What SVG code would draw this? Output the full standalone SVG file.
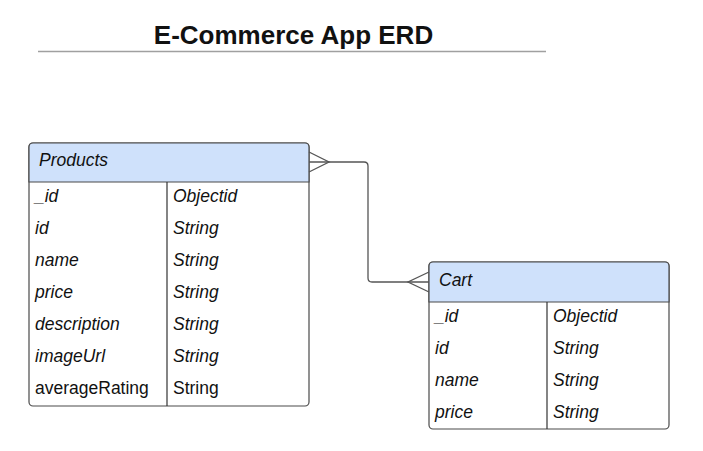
<svg xmlns="http://www.w3.org/2000/svg" width="703" height="451" viewBox="0 0 703 451">
<style>
.box{fill:#ffffff;stroke:#4a4a4a;stroke-width:1.2}
.hdr{fill:#cfe1fb;stroke:#4a4a4a;stroke-width:1.2}
.sep{stroke:#333333;stroke-width:1.2;fill:none}
.t{font-family:"Liberation Sans",Arial,sans-serif;font-size:17.5px;font-style:italic;fill:#111111}
.n{font-style:normal}
.conn{fill:none;stroke:#555555;stroke-width:1.3}
</style>
<rect width="703" height="451" fill="#ffffff"/>
<text x="293.5" y="44" text-anchor="middle" font-family="Liberation Sans, Arial, sans-serif" font-size="26" font-weight="bold" fill="#111111">E-Commerce App ERD</text>
<line x1="38" y1="51.5" x2="546" y2="51.5" stroke="#a0a0a0" stroke-width="1.5"/>

<g id="products">
<rect class="box" x="29" y="143" width="280" height="263" rx="4"/>
<path class="hdr" d="M29,182 V147 Q29,143 33,143 H305 Q309,143 309,147 V182 Z"/>
<line class="sep" x1="167" y1="182" x2="167" y2="406"/>
<text class="t" x="39" y="166">Products</text>
<text class="t" x="35" y="202">_id</text><text class="t" x="173" y="202">Objectid</text>
<text class="t" x="35" y="234">id</text><text class="t" x="173" y="234">String</text>
<text class="t" x="35" y="266">name</text><text class="t" x="173" y="266">String</text>
<text class="t" x="35" y="298">price</text><text class="t" x="173" y="298">String</text>
<text class="t" x="35" y="330">description</text><text class="t" x="173" y="330">String</text>
<text class="t" x="35" y="362">imageUrl</text><text class="t" x="173" y="362">String</text>
<text class="t n" x="35" y="394">averageRating</text><text class="t n" x="173" y="394">String</text>
</g>

<g id="cart">
<rect class="box" x="429" y="262" width="240" height="167" rx="4"/>
<path class="hdr" d="M429,302 V266 Q429,262 433,262 H665 Q669,262 669,266 V302 Z"/>
<line class="sep" x1="547" y1="302" x2="547" y2="429"/>
<text class="t" x="439" y="286">Cart</text>
<text class="t" x="435" y="322">_id</text><text class="t" x="553" y="322">Objectid</text>
<text class="t" x="435" y="354">id</text><text class="t" x="553" y="354">String</text>
<text class="t" x="435" y="386">name</text><text class="t" x="553" y="386">String</text>
<text class="t" x="435" y="418">price</text><text class="t" x="553" y="418">String</text>
</g>

<g id="connectors">
<path class="conn" d="M309,162 H364 Q368,162 368,166 V278 Q368,282 372,282 H429"/>
<path class="conn" d="M309,152 L329,162 L309,172"/>
<path class="conn" d="M429,272 L408,282 L429,292"/>
</g>
</svg>
